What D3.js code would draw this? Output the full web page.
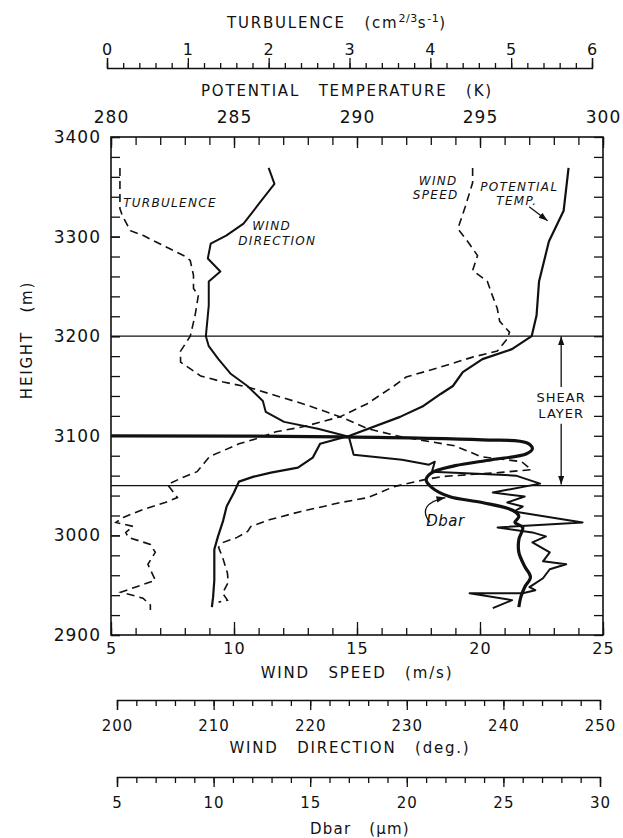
<!DOCTYPE html>
<html>
<head>
  <meta charset="utf-8">
  <title>Shear layer profiles</title>
  <script src="https://d3js.org/d3.v7.min.js"></script>
  <style>
    body { margin: 0; background: #fff; }
    text { font-family: "DejaVu Sans", sans-serif; fill: #111; }
    .axis line, .axis path { stroke: #111; stroke-width: 1.3; }
  </style>
</head>
<body>
<div id="chart"></div>

<script type="text/javascript">

  // [value, height (m)]
  var turbulence = [
    [0.16,3369],[0.16,3328],[0.19,3321],[0.29,3306],[0.45,3301],[0.97,3280],[1.03,3276],[1.07,3261],
    [1.07,3248],[1.13,3241],[1.09,3221],[1.03,3200],[0.91,3185],[0.91,3174],[1.16,3160],[1.44,3154],
    [1.74,3149],[2.02,3142],[2.43,3132],[2.89,3119],[3.23,3107],[3.64,3099],[4.30,3090],[4.63,3079],
    [5.13,3074],[5.25,3066],[4.84,3063],[4.47,3061],[4.14,3059],[3.93,3056],[3.55,3049],[3.23,3038],
    [2.89,3033],[2.40,3024],[2.02,3016],[1.78,3009],[1.74,3004],[1.61,2998],[1.44,2993],[1.38,2988],
    [1.43,2978],[1.49,2962],[1.50,2953],[1.43,2942],[1.49,2935],[1.38,2933]
  ];

  var windSpeed = [
    [19.7,3369],[19.7,3354],[19.4,3330],[19.1,3308],[19.5,3295],[19.9,3281],[19.7,3266],[20.3,3255],
    [20.5,3241],[20.7,3228],[20.8,3215],[21.2,3204],[21.1,3197],[20.7,3185],[19.7,3179],[18.4,3169],
    [17.0,3159],[16.5,3150],[15.4,3132],[14.3,3119],[12.8,3109],[11.7,3104],[10.9,3097],[10.2,3092],
    [9.0,3079],[8.8,3073],[8.5,3064],[7.9,3058],[7.3,3051],[7.7,3038],[7.2,3033],[6.3,3026],
    [5.5,3018],[5.2,3013],[5.9,3009],[5.6,3003],[5.7,2998],[6.6,2991],[6.8,2983],[6.5,2971],
    [6.8,2955],[5.4,2943],[6.3,2937],[6.6,2930],[6.6,2925]
  ];

  var windDirection = [
    [215.7,3369],[216.3,3353],[214.7,3333],[213.1,3313],[211.3,3301],[209.7,3293],[209.4,3278],[210.7,3265],
    [209.5,3255],[209.5,3231],[209.2,3200],[209.5,3190],[210.5,3177],[211.8,3162],[213.5,3150],[215.1,3135],
    [215.4,3124],[217.3,3114],[220.8,3107],[224.0,3099],[224.5,3081],[229.5,3076],[232.3,3071],[232.9,3074],
    [232.6,3064],[237.3,3062],[241.3,3060],[243.8,3052],[238.9,3043],[242.2,3039],[240.4,3033],[242.0,3029],
    [241.1,3024],[248.2,3013],[239.4,3008],[243.0,3003],[244.4,2999],[243.0,2993],[244.8,2983],[244.1,2974],
    [246.5,2971],[244.8,2966],[244.1,2957],[242.7,2948],[243.3,2945],[242.0,2942],[236.5,2942],[240.9,2935],
    [238.9,2927]
  ];

  var potentialTemp = [
    [298.6,3369],[298.4,3326],[297.8,3295],[297.4,3255],[297.3,3221],[297.1,3200],[296.3,3187],[295.1,3177],
    [294.3,3164],[293.9,3150],[293.4,3142],[292.7,3130],[291.75,3119],[289.7,3100],[288.5,3092],[288.2,3078],
    [287.6,3068],[286.5,3063],[285.8,3059],[285.2,3054],[285.0,3043],[284.7,3029],[284.55,3014],[284.35,2999],
    [284.2,2986],[284.2,2955],[284.15,2938],[284.1,2928]
  ];

  var dbar = [
    [4.7,3100],[16.6,3099],[23.9,3096],[26.2,3093],[26.5,3087],[26.2,3082],[24.4,3076],[22.5,3070],
    [21.3,3063],[21.0,3056],[21.3,3048],[22.2,3039],[23.9,3033],[25.5,3025],[25.8,3019],[25.6,3013],
    [26.0,3008],[25.8,2996],[25.8,2983],[26.1,2969],[26.4,2958],[26.1,2948],[25.9,2938],[25.8,2928]
  ];

  var heightTicks = [2900, 3000, 3100, 3200, 3300, 3400];
  var tempTicks = [280, 285, 290, 295, 300];
  var turbTicks = [0, 1, 2, 3, 4, 5, 6];
  var speedTicks = [5, 10, 15, 20, 25];
  var dirTicks = [200, 210, 220, 230, 240, 250];
  var dbarTicks = [5, 10, 15, 20, 25, 30];
  var shearLayer = [3050, 3200];

  var w = 623, h = 838;
  var L = 111, R = 603, T = 137, B = 635;

  var svg = d3.select("#chart").append("svg")
          .attr("width", w)
          .attr("height", h);

  var y = d3.scaleLinear().domain([2900, 3400]).range([B, T]);
  var xSpeed = d3.scaleLinear().domain([5, 25]).range([L, R]);
  var xTemp = d3.scaleLinear().domain([280, 300]).range([L, R]);
  var xTurb = d3.scaleLinear().domain([0, 6]).range([107, 592]);
  var xDir = d3.scaleLinear().domain([200, 250]).range([117, 600]);
  var xDbar = d3.scaleLinear().domain([5, 30]).range([117, 600]);

  function styleAxis(g, size) {
    g.attr("class", "axis").attr("font-family", null).attr("font-size", null);
    g.selectAll("text").style("font-size", size + "px").style("letter-spacing", "1px").attr("fill", "#111");
    return g;
  }

  // ---- frame axes ----
  svg.append("g").attr("transform", "translate(" + L + ",0)")
          .call(d3.axisLeft(y).tickValues(d3.range(2900, 3401, 20)).tickSizeInner(-9).tickSizeOuter(0).tickFormat(""))
          .call(styleAxis, 10).select(".domain").remove();
  svg.append("g").attr("transform", "translate(" + L + ",0)")
          .call(d3.axisLeft(y).tickValues(heightTicks).tickSizeInner(-9).tickSizeOuter(0).tickPadding(10).tickFormat(d3.format("d")))
          .call(styleAxis, 17).select(".domain").remove();
  svg.append("g").attr("transform", "translate(" + R + ",0)")
          .call(d3.axisRight(y).tickValues(d3.range(2900, 3401, 20)).tickSizeInner(-9).tickSizeOuter(0).tickFormat(""))
          .call(styleAxis, 10).select(".domain").remove();

  svg.append("g").attr("transform", "translate(0," + T + ")")
          .call(d3.axisTop(xTemp).tickValues(d3.range(280, 301, 1)).tickSizeInner(-8).tickSizeOuter(0).tickFormat(""))
          .call(styleAxis, 10).select(".domain").remove();
  svg.append("g").attr("transform", "translate(0," + T + ")")
          .call(d3.axisTop(xTemp).tickValues(tempTicks).tickSizeInner(-11).tickSizeOuter(0).tickPadding(14).tickFormat(d3.format("d")))
          .call(styleAxis, 17).select(".domain").remove();

  svg.append("g").attr("transform", "translate(0," + B + ")")
          .call(d3.axisBottom(xSpeed).tickValues(d3.range(5, 26, 1)).tickSizeInner(-7).tickSizeOuter(0).tickFormat(""))
          .call(styleAxis, 10).select(".domain").remove();
  svg.append("g").attr("transform", "translate(0," + B + ")")
          .call(d3.axisBottom(xSpeed).tickValues(speedTicks).tickSizeInner(-13).tickSizeOuter(0).tickPadding(8).tickFormat(d3.format("d")))
          .call(styleAxis, 16).select(".domain").remove();

  svg.append("rect")
          .attr("x", L).attr("y", T)
          .attr("width", R - L).attr("height", B - T)
          .attr("fill", "none").attr("stroke", "#111").attr("stroke-width", 1.6);

  // ---- separate bracket axes ----
  svg.append("g").attr("transform", "translate(0,68)")
          .call(d3.axisTop(xTurb).tickValues(d3.range(0, 6.01, 0.2)).tickSizeInner(5).tickSizeOuter(10).tickFormat(""))
          .call(styleAxis, 10);
  svg.append("g").attr("transform", "translate(0,68)")
          .call(d3.axisTop(xTurb).tickValues(turbTicks).tickSizeInner(10).tickSizeOuter(0).tickPadding(3).tickFormat(d3.format("d")))
          .call(styleAxis, 16).select(".domain").remove();

  svg.append("g").attr("transform", "translate(0,700)")
          .call(d3.axisBottom(xDir).tickValues(d3.range(200, 251, 2)).tickSizeInner(6).tickSizeOuter(10).tickFormat(""))
          .call(styleAxis, 10);
  svg.append("g").attr("transform", "translate(0,700)")
          .call(d3.axisBottom(xDir).tickValues(dirTicks).tickSizeInner(10).tickSizeOuter(0).tickPadding(10).tickFormat(d3.format("d")))
          .call(styleAxis, 15).select(".domain").remove();

  svg.append("g").attr("transform", "translate(0,777)")
          .call(d3.axisBottom(xDbar).tickValues(d3.range(5, 30.01, 1)).tickSizeInner(6).tickSizeOuter(10).tickFormat(""))
          .call(styleAxis, 10);
  svg.append("g").attr("transform", "translate(0,777)")
          .call(d3.axisBottom(xDbar).tickValues(dbarTicks).tickSizeInner(10).tickSizeOuter(0).tickPadding(10).tickFormat(d3.format("d")))
          .call(styleAxis, 15).select(".domain").remove();

  // ---- axis titles ----
  function title(x, yy, txt) {
    return svg.append("text")
            .attr("x", x).attr("y", yy)
            .attr("text-anchor", "middle")
            .style("font-size", "15px")
            .style("letter-spacing", "1.8px")
            .style("word-spacing", "12px")
            .text(txt);
  }

  var tt = svg.append("text").attr("x", 337).attr("y", 28).attr("text-anchor", "middle")
          .style("font-size", "15px").style("letter-spacing", "1.8px").style("word-spacing", "12px");
  tt.append("tspan").text("TURBULENCE (cm");
  tt.append("tspan").attr("dy", -6).style("font-size", "11px").style("letter-spacing", "0.5px").text("2/3");
  tt.append("tspan").attr("dy", 6).text("s");
  tt.append("tspan").attr("dy", -6).style("font-size", "11px").style("letter-spacing", "0.5px").text("-1");
  tt.append("tspan").attr("dy", 6).text(")");

  title(347, 96, "POTENTIAL TEMPERATURE (K)");
  title(357, 678, "WIND SPEED (m/s)");
  title(350, 753, "WIND DIRECTION (deg.)");

  svg.append("text").attr("x", 360).attr("y", 834).attr("text-anchor", "middle")
          .style("font-size", "15px").style("letter-spacing", "1.2px").style("word-spacing", "12px")
          .text("Dbar (\u03bcm)");

  svg.append("text")
          .attr("transform", "translate(32,340) rotate(-90)")
          .attr("text-anchor", "middle")
          .style("font-size", "15px")
          .style("letter-spacing", "1.8px")
          .style("word-spacing", "12px")
          .text("HEIGHT (m)");

  // ---- shear layer boundaries ----
  svg.selectAll(".shear")
          .data(shearLayer)
          .enter()
          .append("line")
          .attr("class", "shear")
          .attr("x1", L).attr("x2", R)
          .attr("y1", function(d){ return y(d) })
          .attr("y2", function(d){ return y(d) })
          .attr("stroke", "#111")
          .attr("stroke-width", 1.3);

  // ---- curves ----
  function lineFor(xs) {
    return d3.line()
            .x(function(d){ return xs(d[0]) })
            .y(function(d){ return y(d[1]) });
  }

  svg.append("path").datum(turbulence)
          .attr("d", lineFor(xTurb))
          .attr("fill", "none").attr("stroke", "#111")
          .attr("stroke-width", 1.6).attr("stroke-dasharray", "8,5");

  svg.append("path").datum(windSpeed)
          .attr("d", lineFor(xSpeed))
          .attr("fill", "none").attr("stroke", "#111")
          .attr("stroke-width", 1.6).attr("stroke-dasharray", "8,5");

  svg.append("path").datum(windDirection)
          .attr("d", lineFor(xDir))
          .attr("fill", "none").attr("stroke", "#111")
          .attr("stroke-width", 2).attr("stroke-linejoin", "round");

  svg.append("path").datum(potentialTemp)
          .attr("d", lineFor(xTemp))
          .attr("fill", "none").attr("stroke", "#111")
          .attr("stroke-width", 2.2).attr("stroke-linejoin", "round");

  svg.append("path").datum(dbar)
          .attr("d", lineFor(xDbar).curve(d3.curveCatmullRom.alpha(0.5)))
          .attr("fill", "none").attr("stroke", "#111")
          .attr("stroke-width", 3.2).attr("stroke-linejoin", "round");

  // ---- annotations ----
  var defs = svg.append("defs");
  defs.append("marker")
          .attr("id", "arrow")
          .attr("viewBox", "0 0 10 10")
          .attr("refX", 10).attr("refY", 5)
          .attr("markerWidth", 9).attr("markerHeight", 9)
          .attr("markerUnits", "userSpaceOnUse")
          .attr("orient", "auto")
          .append("path")
          .attr("d", "M0,1.5 L10,5 L0,8.5 z")
          .attr("fill", "#111");

  function label(x, yy, txt, size) {
    return svg.append("text")
            .attr("x", x).attr("y", yy)
            .attr("text-anchor", "middle")
            .style("font-size", (size || 12) + "px")
            .style("font-style", "italic")
            .style("letter-spacing", "1.3px")
            .text(txt);
  }

  label(xTurb(0.2), y(3330), "TURBULENCE").attr("text-anchor", "start");
  label(xDir(216), y(3307), "WIND");
  label(xDir(216.6), y(3292), "DIRECTION");
  label(xSpeed(18.3), y(3352), "WIND");
  label(xSpeed(18.2), y(3338), "SPEED");
  label(xTemp(296.6), y(3346), "POTENTIAL");
  label(xTemp(296.5), y(3332), "TEMP.");
  label(xDbar(22), y(3009), "Dbar", 15).style("letter-spacing", "0.5px");

  svg.append("line")
          .attr("x1", xTemp(297)).attr("y1", y(3330))
          .attr("x2", xTemp(297.75)).attr("y2", y(3316))
          .attr("stroke", "#111").attr("stroke-width", 1.3)
          .attr("marker-end", "url(#arrow)");

  var dp = d3.path();
  dp.moveTo(xDbar(21.2), y(3013));
  dp.bezierCurveTo(xDbar(20.7), y(3025), xDbar(21.0), y(3034), xDbar(22.0), y(3038));
  svg.append("path").attr("d", dp.toString())
          .attr("fill", "none").attr("stroke", "#111").attr("stroke-width", 1.3)
          .attr("marker-end", "url(#arrow)");

  // shear layer double arrow
  var xs = xSpeed(23.3);
  svg.append("line")
          .attr("x1", xs).attr("y1", y(3149))
          .attr("x2", xs).attr("y2", y(3200))
          .attr("stroke", "#111").attr("stroke-width", 1.3)
          .attr("marker-end", "url(#arrow)");
  svg.append("line")
          .attr("x1", xs).attr("y1", y(3112))
          .attr("x2", xs).attr("y2", y(3051))
          .attr("stroke", "#111").attr("stroke-width", 1.3)
          .attr("marker-end", "url(#arrow)");
  svg.append("text").attr("x", xs).attr("y", y(3134)).attr("text-anchor", "middle")
          .style("font-size", "13px").style("letter-spacing", "1px").text("SHEAR");
  svg.append("text").attr("x", xs).attr("y", y(3118)).attr("text-anchor", "middle")
          .style("font-size", "13px").style("letter-spacing", "1px").text("LAYER");

</script>

</body>
</html>
